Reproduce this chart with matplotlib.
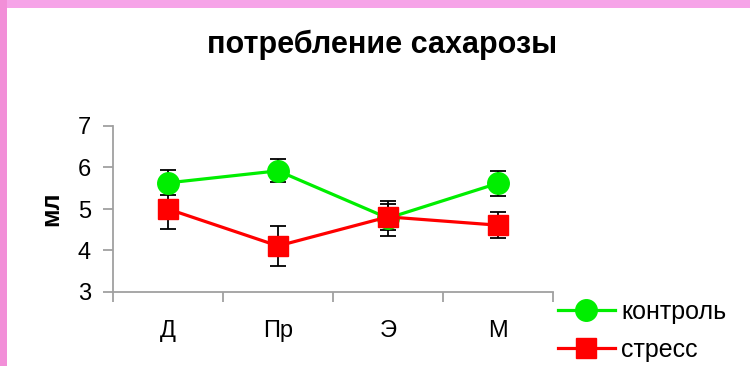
import numpy as np
import matplotlib
matplotlib.use('Agg')
import matplotlib.pyplot as plt
from matplotlib.patches import Rectangle

plt.rcParams['font.family'] = ['Liberation Sans', 'DejaVu Sans']

# data
groups = ['Д', 'Пр', 'Э', 'М']
control = [5.63, 5.92, 4.78, 5.62]
control_err = [0.30, 0.28, 0.42, 0.30]
stress = [5.00, 4.11, 4.81, 4.61]
stress_err = [0.48, 0.49, 0.32, 0.31]
series_names = ['контроль', 'стресс']

x = np.arange(len(groups))

fig = plt.figure(figsize=(7.5, 3.66), dpi=100)
fig.patch.set_facecolor('white')

# pink frame on top and left
fig.add_artist(Rectangle((0, 1 - 8/366), 1, 8/366, transform=fig.transFigure,
                         facecolor='#f6a4e8', edgecolor='none'))
fig.add_artist(Rectangle((0, 0), 7/750, 1, transform=fig.transFigure,
                         facecolor='#f28fd8', edgecolor='none'))

ax = fig.add_axes([113/750, 1 - 292/366, 440/750, 166/366])

ax.errorbar(x, control, yerr=control_err, fmt='none', ecolor='black',
            elinewidth=1.3, capsize=6, capthick=1.3, zorder=2)
ax.errorbar(x, stress, yerr=stress_err, fmt='none', ecolor='black',
            elinewidth=1.3, capsize=6, capthick=1.3, zorder=2)
ax.plot(x, control, color='#00ee00', lw=2.3, marker='o', ms=15.5,
        label=series_names[0], zorder=3)
ax.plot(x, stress, color='#ff0000', lw=2.3, marker='s', ms=15,
        label=series_names[1], zorder=4)

ax.set_xlim(-0.5, 3.5)
ax.set_ylim(3, 7)
ax.set_yticks([3, 4, 5, 6, 7])
ax.set_xticks(x)
ax.set_xticklabels(groups)
ax.set_xticks(np.arange(-0.5, 4, 1), minor=True)
ax.tick_params(axis='x', which='major', length=0, pad=20, labelsize=17)
ax.tick_params(axis='x', which='minor', length=7, width=1.3, color='#a0a0a0')
ax.tick_params(axis='y', length=7, width=1.3, color='#a0a0a0', pad=9,
               labelsize=17)

for s in ['top', 'right']:
    ax.spines[s].set_visible(False)
for s in ['left', 'bottom']:
    ax.spines[s].set_color('#a0a0a0')
    ax.spines[s].set_linewidth(1.3)

ax.set_ylabel('мл', fontsize=18, fontweight='bold', labelpad=10)
fig.text(382/750, 1 - 45/366, 'потребление сахарозы', ha='center', va='center',
         fontsize=22, fontweight='bold')

ax.legend(loc='center left', bbox_to_anchor=(545/750, 1 - 331/366),
          bbox_transform=fig.transFigure, frameon=False, fontsize=18,
          handlelength=2.3, handletextpad=0.25, labelspacing=0.55,
          borderpad=0)

fig.savefig('out.png', dpi=100)
